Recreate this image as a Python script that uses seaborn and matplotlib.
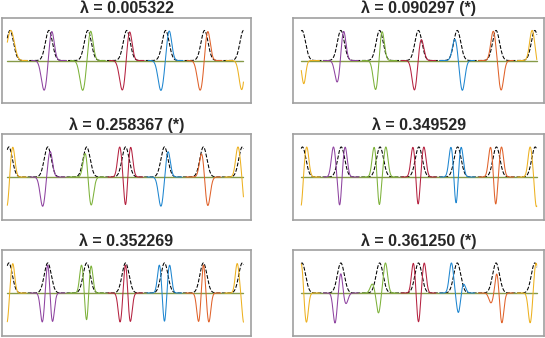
import numpy as np
import pandas as pd
import matplotlib
matplotlib.use("Agg")
import matplotlib.pyplot as plt
import seaborn as sns

# panel titles and where the first lattice site sits inside each domain
titles = ["λ = 0.005322", "λ = 0.090297 (*)", "λ = 0.258367 (*)",
          "λ = 0.349529", "λ = 0.352269", "λ = 0.361250 (*)"]
site_offset = [0.07, 0.02, 0.04, 0.03, 0.04, 0.02]
x_end = 6.07
n_sites = 7
site_colors = ["#EDB120", "#8E43A0", "#7DB23A", "#B52240",
               "#1E86D0", "#E0622A", "#EDB120"]

# dashed reference bump (height, width)
ref_height = 1.0
ref_width = 0.09

# lobes of each localized function, per site: (shift, amplitude, width)
lobes_1 = [
    [(0.02, 1.0, 0.09)],
    [(-0.12, -1.0, 0.075), (0.07, 1.0, 0.065)],
    [(-0.13, -1.0, 0.075), (0.07, 1.0, 0.065)],
    [(-0.11, -1.0, 0.075), (0.07, 1.0, 0.065)],
    [(-0.12, -1.0, 0.075), (0.09, 1.0, 0.065)],
    [(-0.11, -1.0, 0.075), (0.08, 1.0, 0.065)],
    [(-0.04, -1.0, 0.07), (0.14, 1.0, 0.07)],
]
lobes_2 = [
    [(0.045, -0.77, 0.05)],
    [(-0.09, -0.74, 0.065), (0.07, 1.0, 0.06)],
    [(-0.10, -0.99, 0.065), (0.06, 1.0, 0.06)],
    [(-0.10, -1.0, 0.065), (0.07, 0.72, 0.065)],
    [(-0.06, 0.72, 0.065), (0.13, -1.0, 0.065)],
    [(-0.07, 0.98, 0.065), (0.13, -0.99, 0.065)],
    [(-0.07, 1.0, 0.065), (0.15, -0.8, 0.055)],
]
lobes_3 = [
    [(-0.05, -1.0, 0.05), (0.10, 1.0, 0.055)],
    [(-0.13, -0.98, 0.065), (0.06, 0.86, 0.06)],
    [(-0.03, 0.86, 0.06), (0.11, -0.98, 0.065)],
    [(-0.15, 1.0, 0.055), (0.0, -1.0, 0.045), (0.13, 1.0, 0.055)],
    [(-0.09, -0.98, 0.065), (0.09, 0.86, 0.06)],
    [(-0.04, 0.82, 0.06), (0.11, -0.98, 0.065)],
    [(-0.11, 1.0, 0.06), (0.07, -1.0, 0.05)],
]
lobes_4 = [
    [(-0.04, -1.0, 0.045), (0.11, 1.0, 0.055)],
    [(-0.20, 1.0, 0.055), (-0.04, -0.98, 0.045), (0.10, 1.0, 0.055)],
    [(-0.15, 1.0, 0.055), (-0.02, -0.98, 0.045), (0.15, 1.0, 0.055)],
    [(-0.15, 1.0, 0.055), (-0.02, -0.98, 0.045), (0.13, 1.0, 0.055)],
    [(-0.17, 1.0, 0.055), (-0.04, -0.98, 0.045), (0.09, 1.0, 0.055)],
    [(-0.15, 1.0, 0.055), (-0.02, -0.98, 0.045), (0.13, 1.0, 0.055)],
    [(-0.13, 1.0, 0.055), (0.03, -1.0, 0.045)],
]
lobes_5 = [
    [(-0.05, -1.0, 0.045), (0.10, 0.98, 0.05)],
    [(-0.14, -0.97, 0.05), (0.0, 1.0, 0.045), (0.12, -0.97, 0.05)],
    [(-0.13, 0.94, 0.05), (0.0, -1.0, 0.045), (0.11, 0.94, 0.05)],
    [(-0.14, -0.97, 0.05), (0.0, 1.0, 0.045), (0.12, -0.97, 0.05)],
    [(-0.13, 0.94, 0.05), (0.0, -1.0, 0.045), (0.13, 0.94, 0.05)],
    [(-0.12, -0.97, 0.05), (0.0, 1.0, 0.045), (0.14, -0.97, 0.05)],
    [(-0.13, 0.98, 0.05), (0.04, -1.0, 0.045)],
]
lobes_6 = [
    [(-0.02, 1.0, 0.05), (0.11, -1.0, 0.05)],
    [(-0.15, -1.0, 0.05), (0.0, 0.67, 0.045), (0.13, -0.36, 0.055)],
    [(-0.19, 0.3, 0.055), (-0.03, -0.67, 0.05), (0.15, 1.0, 0.055)],
    [(-0.13, 1.0, 0.05), (0.0, -1.0, 0.045), (0.15, 1.0, 0.05)],
    [(-0.15, 1.0, 0.055), (0.03, -0.67, 0.05), (0.16, 0.31, 0.055)],
    [(-0.13, -0.33, 0.055), (0.02, 0.67, 0.045), (0.15, -1.0, 0.05)],
    [(-0.12, -1.0, 0.05), (0.03, 1.0, 0.05)],
]
all_lobes = [lobes_1, lobes_2, lobes_3, lobes_4, lobes_5, lobes_6]


def bumps(x, center, lobes):
    y = np.zeros_like(x)
    for dx, amp, w in lobes:
        y += amp * np.exp(-(x - center - dx) ** 2 / (2 * w * w))
    return y


sns.set_style("white")
plt.rcParams["font.family"] = ["Liberation Sans", "DejaVu Sans"]

W, H = 545, 338
fig = plt.figure(figsize=(W / 100, H / 100), dpi=100)

col_x = [(2.0, 249.0), (293.5, 250.5)]
row_top = [17.5, 134.0, 250.0]
box_h = 86.0
col_xlim = [(-0.136, 6.264), (-0.2, 6.256)]

x = np.linspace(0, x_end, 1500)

for i in range(6):
    r, c = divmod(i, 2)
    x0, w = col_x[c]
    ax = fig.add_axes([x0 / W, 1 - (row_top[r] + box_h) / H, w / W, box_h / H])

    centers = site_offset[i] + np.arange(n_sites)
    ref = np.zeros_like(x)
    for cc in centers:
        ref += ref_height * np.exp(-(x - cc) ** 2 / (2 * ref_width ** 2))

    rows = []
    for k, cc in enumerate(centers):
        m = np.abs(x - cc) < 0.45
        rows.append(pd.DataFrame({"x": x[m], "y": bumps(x[m], cc, all_lobes[i][k]),
                                  "site": k}))
    df = pd.concat(rows, ignore_index=True)

    sns.lineplot(x=x, y=ref, color="black", linestyle="--", linewidth=0.75,
                 dashes=(4, 2.5), ax=ax)
    ax.plot([0, x_end], [0, 0], color="#869a48", linewidth=1.0)
    sns.lineplot(data=df, x="x", y="y", hue="site",
                 palette={k: site_colors[k] for k in range(n_sites)},
                 estimator=None, errorbar=None, linewidth=0.75,
                 legend=False, ax=ax)

    ax.set_xlim(*col_xlim[c])
    ax.set_ylim(-1.43, 1.43)
    ax.set_xticks([])
    ax.set_yticks([])
    ax.set_xlabel("")
    ax.set_ylabel("")
    for sp in ax.spines.values():
        sp.set_visible(True)
        sp.set_color("#a0a0a0")
        sp.set_linewidth(1.2)
    ax.set_title(titles[i], fontsize=11.5, fontweight="bold", pad=3)

fig.savefig("out.png", dpi=100)
